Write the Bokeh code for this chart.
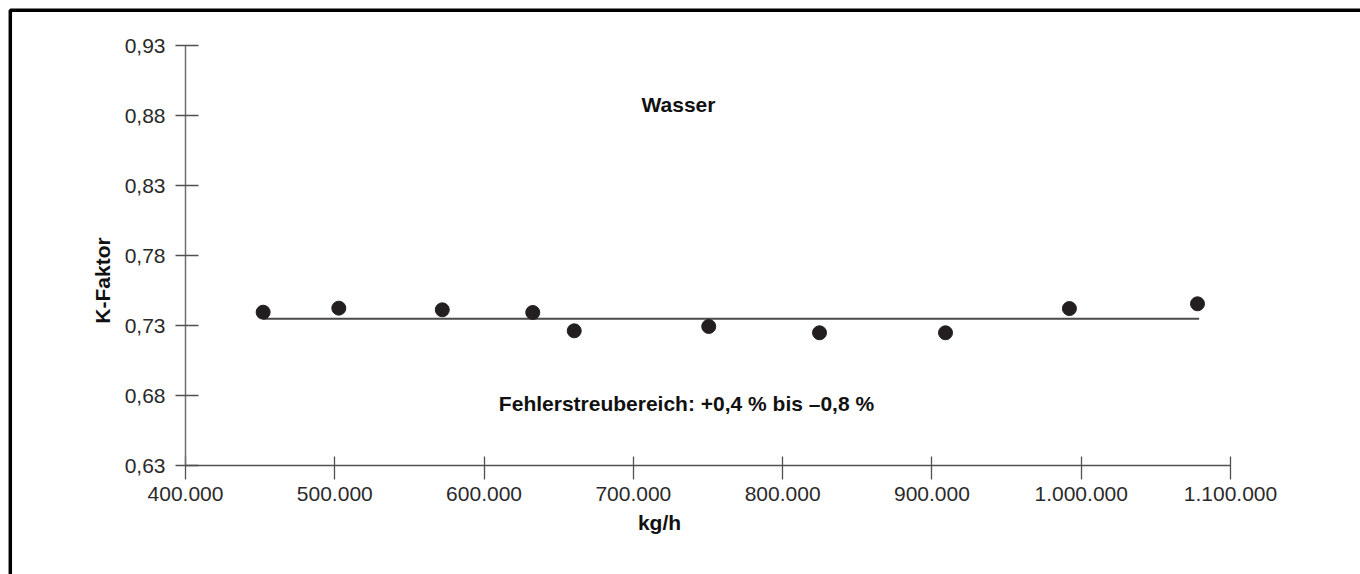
from bokeh.plotting import figure
from bokeh.models import LinearAxis, FixedTicker, CustomJSTickFormatter, Label, BoxAnnotation, Range1d
from bokeh.embed import file_html
from bokeh.resources import INLINE

# ---- data ----
mass_flow = [452000, 502700, 572000, 632600, 660400, 750500, 824700, 909100, 992100, 1077900]
k_factor = [0.7395, 0.7424, 0.7412, 0.7393, 0.7262, 0.7293, 0.7248, 0.7248, 0.7421, 0.7455]
fit_x = [452000, 1079000]
fit_y = [0.7348, 0.7348]
x_ticks = [400000, 500000, 600000, 700000, 800000, 900000, 1000000, 1100000]
y_ticks = [0.63, 0.68, 0.73, 0.78, 0.83, 0.88, 0.93]

title_text = "Wasser"
note_text = "Fehlerstreubereich: +0,4 % bis \u20130,8 %"
x_title = "kg/h"
y_title = "K-Faktor"

# ---- layout (canvas pixels) ----
W, H = 1360, 574
XA_PX, XB_PX = 185, 1230
YA_PX, YB_PX = 465, 45
XA, XB = 400000, 1100000
YA, YB = 0.63, 0.93
sx = (XB - XA) / (XB_PX - XA_PX)
sy = (YB - YA) / (YA_PX - YB_PX)


def xd(px):
    return XA + (px - XA_PX) * sx


def yd(py):
    return YA + (YA_PX - py) * sy


FONT = "Liberation Sans"

p = figure(width=W, height=H, x_range=Range1d(xd(0), xd(W)), y_range=Range1d(yd(H), yd(0)),
           output_backend="svg", toolbar_location=None, x_axis_type=None, y_axis_type=None,
           min_border=0, title=None)
p.outline_line_color = None
p.background_fill_color = "white"
p.border_fill_color = "white"

# page frame (left and top edges visible, the rest runs off the page)
p.add_layout(BoxAnnotation(left=xd(9.8), top=yd(9.8), right=xd(W + 40), bottom=yd(H + 40),
                           fill_color=None, fill_alpha=0, line_color="black", line_alpha=1.0,
                           line_width=3.5))

yaxis = LinearAxis(fixed_location=XA, bounds=(YA, YB), ticker=FixedTicker(ticks=y_ticks),
                   formatter=CustomJSTickFormatter(code="return tick.toFixed(2).replace('.', ',');"))
yaxis.axis_line_color = "#707070"
yaxis.axis_line_width = 1.5
yaxis.major_tick_line_color = "#505050"
yaxis.major_tick_line_width = 1.3
yaxis.major_tick_in = 13
yaxis.major_tick_out = 10
yaxis.minor_tick_line_color = None
yaxis.major_label_standoff = 10
yaxis.major_label_text_font = FONT
yaxis.major_label_text_font_size = "21px"
yaxis.major_label_text_color = "#2a2a2a"
p.add_layout(yaxis, "left")

xaxis = LinearAxis(fixed_location=YA, bounds=(XA, XB), ticker=FixedTicker(ticks=x_ticks),
                   formatter=CustomJSTickFormatter(
                       code="return Math.round(tick).toString().replace(/\\B(?=(\\d{3})+(?!\\d))/g, '.');"))
xaxis.axis_line_color = "#505050"
xaxis.axis_line_width = 1.5
xaxis.major_tick_line_color = "#505050"
xaxis.major_tick_line_width = 1.3
xaxis.major_tick_in = 9
xaxis.major_tick_out = 14
xaxis.minor_tick_line_color = None
xaxis.major_label_standoff = 7
xaxis.major_label_text_font = FONT
xaxis.major_label_text_font_size = "21px"
xaxis.major_label_text_color = "#2a2a2a"
p.add_layout(xaxis, "below")

p.line(fit_x, fit_y, line_color="#4a4a4a", line_width=2)
p.scatter(mass_flow, k_factor, size=14, fill_color="#231f20", line_color="#231f20")


def add_text(txt, px, py, angle=0.0):
    p.add_layout(Label(x=xd(px), y=yd(py), text=txt, text_font=FONT, text_font_size="21px",
                       text_font_style="bold", text_color="#111111", text_align="center",
                       text_baseline="middle", angle=angle))


add_text(title_text, 678, 104)
add_text(note_text, 686, 403)
add_text(x_title, 659, 522)
add_text(y_title, 102, 280, angle=1.5707963)

open("out.html", "w").write(file_html(p, INLINE))
